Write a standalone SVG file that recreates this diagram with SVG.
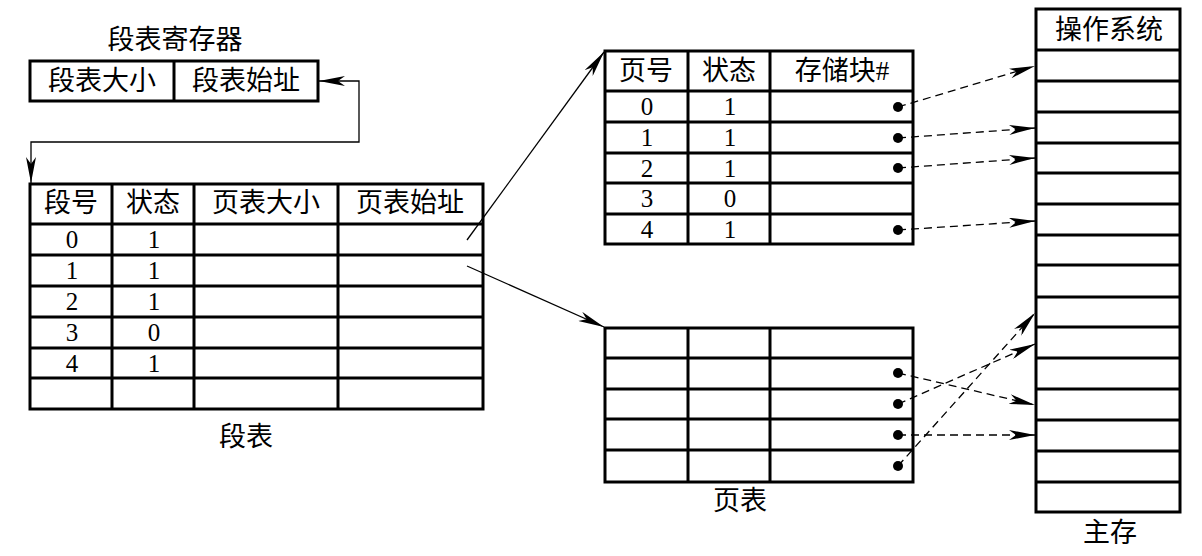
<svg xmlns="http://www.w3.org/2000/svg" width="1202" height="556" viewBox="0 0 1202 556">
<style>
.box{fill:#fff;stroke:#000;stroke-width:3}
.ln{stroke:#000;stroke-width:3;fill:none}
.t{font-family:"Liberation Serif","Noto Sans CJK SC",serif;font-size:27px;fill:#000;text-anchor:middle}
.d{font-family:"Liberation Serif",serif;font-size:25px;fill:#000;text-anchor:middle}
.c{stroke:#000;stroke-width:1.3;fill:none}
.dash{stroke:#000;stroke-width:1.3;fill:none;stroke-dasharray:8 5}
.dot{fill:#000}
</style>
<defs>
<marker id="ah" markerUnits="userSpaceOnUse" markerWidth="26" markerHeight="10" refX="26" refY="5" orient="auto-start-reverse" viewBox="0 0 26 10">
<path d="M0,0 L26,5 L0,10 L7,5 z" fill="#000"/>
</marker>
</defs>
<rect width="1202" height="556" fill="#fff"/>

<g id="seg-register">
<text class="t" x="175" y="49">段表寄存器</text>
<rect class="box" x="30" y="61" width="288" height="40"/>
<line class="ln" x1="174" y1="61" x2="174" y2="101"/>
<text class="t" x="102" y="90">段表大小</text>
<text class="t" x="246" y="90">段表始址</text>
</g>

<g id="seg-table">
<rect class="box" x="30" y="184" width="453" height="225"/>
<path class="ln" d="M112,184V409M194,184V409M338,184V409M30,224H483M30,255H483M30,286H483M30,317H483M30,348H483M30,378H483"/>
<text class="t" x="71" y="212">段号</text>
<text class="t" x="153" y="212">状态</text>
<text class="t" x="266" y="212">页表大小</text>
<text class="t" x="410" y="212">页表始址</text>
<text class="d" x="72" y="248">0</text><text class="d" x="154" y="248">1</text>
<text class="d" x="72" y="279">1</text><text class="d" x="154" y="279">1</text>
<text class="d" x="72" y="310">2</text><text class="d" x="154" y="310">1</text>
<text class="d" x="72" y="341">3</text><text class="d" x="154" y="341">0</text>
<text class="d" x="72" y="372">4</text><text class="d" x="154" y="372">1</text>
<text class="t" x="246" y="446">段表</text>
</g>

<g id="page-table-1">
<rect class="box" x="605" y="51" width="308" height="193"/>
<path class="ln" d="M688,51V244M770,51V244M605,91H913M605,122H913M605,153H913M605,183H913M605,214H913"/>
<text class="t" x="646" y="80">页号</text>
<text class="t" x="729" y="80">状态</text>
<text class="t" x="842" y="80">存储块#</text>
<text class="d" x="647" y="115">0</text><text class="d" x="730" y="115">1</text>
<text class="d" x="647" y="146">1</text><text class="d" x="730" y="146">1</text>
<text class="d" x="647" y="177">2</text><text class="d" x="730" y="177">1</text>
<text class="d" x="647" y="207">3</text><text class="d" x="730" y="207">0</text>
<text class="d" x="647" y="238">4</text><text class="d" x="730" y="238">1</text>
<circle class="dot" cx="898" cy="107" r="5"/>
<circle class="dot" cx="898" cy="138" r="5"/>
<circle class="dot" cx="898" cy="168" r="5"/>
<circle class="dot" cx="898" cy="230" r="5"/>
</g>

<g id="page-table-2">
<rect class="box" x="605" y="328" width="308" height="154"/>
<path class="ln" d="M688,328V482M770,328V482M605,358H913M605,389H913M605,419H913M605,450H913"/>
<circle class="dot" cx="898" cy="373" r="5"/>
<circle class="dot" cx="898" cy="404" r="5"/>
<circle class="dot" cx="898" cy="435" r="5"/>
<circle class="dot" cx="898" cy="466" r="5"/>
<text class="t" x="740" y="510">页表</text>
</g>

<g id="main-memory">
<rect class="box" x="1036" y="9" width="144" height="503"/>
<path class="ln" d="M1036,50H1180M1036,81H1180M1036,112H1180M1036,143H1180M1036,173H1180M1036,204H1180M1036,235H1180M1036,265H1180M1036,297H1180M1036,327H1180M1036,358H1180M1036,389H1180M1036,420H1180M1036,451H1180M1036,482H1180"/>
<text class="t" x="1109" y="39">操作系统</text>
<text class="t" x="1110" y="542">主存</text>
</g>

<g id="connectors">
<path class="c" d="M319,81H359V142H31V183" marker-start="url(#ah)" marker-end="url(#ah)"/>
<line class="c" x1="467" y1="240" x2="604" y2="52" marker-end="url(#ah)"/>
<line class="c" x1="467" y1="266" x2="604" y2="327" marker-end="url(#ah)"/>
<line class="dash" x1="898" y1="107" x2="1035" y2="66" marker-end="url(#ah)"/>
<line class="dash" x1="898" y1="138" x2="1035" y2="128" marker-end="url(#ah)"/>
<line class="dash" x1="898" y1="168" x2="1035" y2="158" marker-end="url(#ah)"/>
<line class="dash" x1="898" y1="230" x2="1035" y2="221" marker-end="url(#ah)"/>
<line class="dash" x1="898" y1="373" x2="1035" y2="405" marker-end="url(#ah)"/>
<line class="dash" x1="898" y1="404" x2="1035" y2="344" marker-end="url(#ah)"/>
<line class="dash" x1="898" y1="435" x2="1035" y2="435" marker-end="url(#ah)"/>
<line class="dash" x1="898" y1="466" x2="1035" y2="313" marker-end="url(#ah)"/>
</g>
</svg>
